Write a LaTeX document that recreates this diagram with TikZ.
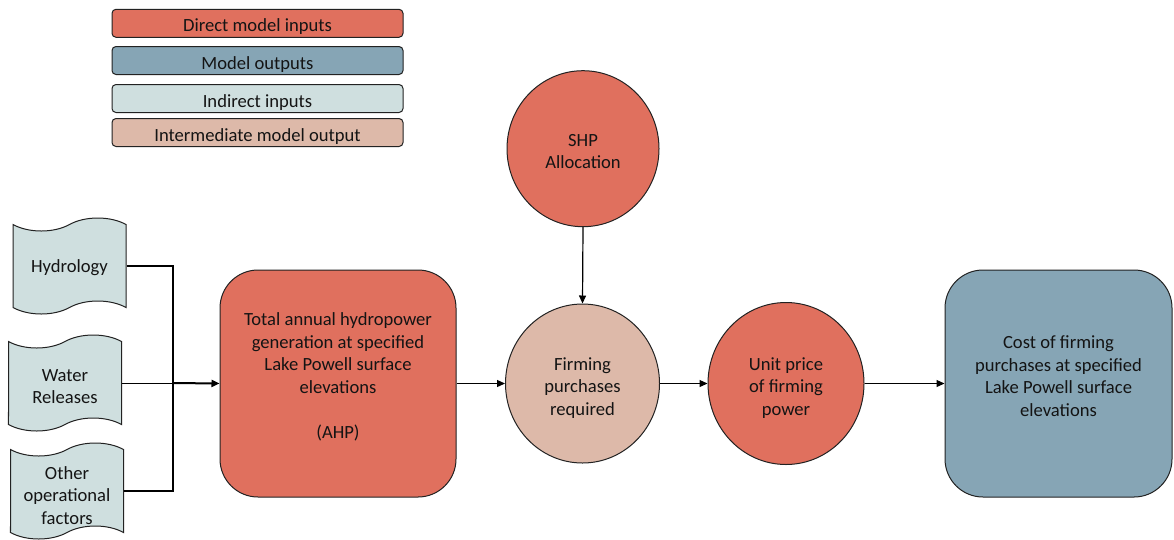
\documentclass[tikz,border=0pt]{standalone}
\usepackage{fontspec}
\setmainfont{Carlito}
\usetikzlibrary{arrows.meta,shapes.symbols,shapes.geometric,calc}
\definecolor{cdirect}{HTML}{E0705E}
\definecolor{coutput}{HTML}{86A5B5}
\definecolor{cindirect}{HTML}{CFDFDF}
\definecolor{cinter}{HTML}{DDB9A9}
\definecolor{cline}{HTML}{222222}
\definecolor{ctext}{HTML}{141414}
\begin{document}
\begin{tikzpicture}[x=1pt,y=-1pt,
 every node/.style={font=\fontsize{18.6}{22.5}\selectfont, text=ctext, align=center, inner sep=0pt},
 legendbox/.style={draw=cline, line width=1pt, rounded corners=4pt, minimum width=291pt, minimum height=28pt, text height=17pt, text depth=0pt},
 tapebox/.style={shape=tape, draw=cline, line width=1pt, fill=cindirect, minimum width=113pt, minimum height=96pt, tape bend height=13pt},
 bigbox/.style={draw=cline, line width=1pt, rounded corners=38pt, minimum width=227pt, minimum height=227pt},
 circ/.style={ellipse, draw=cline, line width=1pt, minimum width=154pt, minimum height=159pt},
 conn/.style={draw=black, line width=1.2pt, -{Triangle[length=8pt,width=7pt]}},
 thinline/.style={draw=black, line width=1pt},
 thickline/.style={draw=black, line width=2pt},
]
\useasboundingbox (0,0) rectangle (1174,539);
% legend
\node[legendbox, fill=cdirect] (l1) at (257.5,23.3) {Direct model inputs};
\node[legendbox, fill=coutput] (l2) at (257.5,60.5) {Model outputs};
\node[legendbox, fill=cindirect] (l3) at (257.5,98.5) {Indirect inputs};
\node[legendbox, fill=cinter] (l4) at (257.5,132.5) {Intermediate model output};
% indirect inputs
\node[tapebox] (hyd) at (69.5,266) {};
\node (hydtext) at (69.5,268) {Hydrology};
\node[tapebox] (wat) at (65,383) {};
\node (wattext) at (65,386.5) {Water\\Releases};
\node[tapebox] (oth) at (67,491) {};
\node (othtext) at (67,495.5) {Other\\operational\\factors};
% main boxes
\node[bigbox, fill=cdirect, minimum width=236pt] (ahp) at (338,383.5) {};
\node (ahptext) at (338,377) {Total annual hydropower\\generation at specified\\Lake Powell surface\\elevations\\[22.5pt](AHP)};
\node[circ, fill=cdirect, minimum width=152pt, minimum height=156pt] (shp) at (583,148.7) {};
\node (shptext) at (583,151.5) {SHP\\Allocation};
\node[circ, fill=cinter] (firm) at (582.5,383.5) {};
\node (firmtext) at (582.5,388) {Firming\\purchases\\required};
\node[circ, fill=cdirect, minimum width=156pt, minimum height=162pt] (unit) at (786,383.5) {};
\node (unittext) at (786,388) {Unit price\\of firming\\power};
\node[bigbox, fill=coutput] (cost) at (1058.5,383.5) {};
\node (costtext) at (1058.5,376) {Cost of firming\\purchases at specified\\Lake Powell surface\\elevations};
% connectors
\coordinate (jn) at (173,383);
\draw[thickline] (hyd.east) -| (jn);
\draw[thickline] (oth.east) -| (jn);
\draw[thinline] (wat.east) -- (jn);
\draw[conn, line width=2pt] (jn) -- (ahp.west);
\draw[conn] (ahp.east) -- (firm.west);
\draw[conn] (shp.south) -- (firm.north);
\draw[conn] (firm.east) -- (unit.west);
\draw[conn] (unit.east) -- (cost.west);
\end{tikzpicture}
\end{document}
